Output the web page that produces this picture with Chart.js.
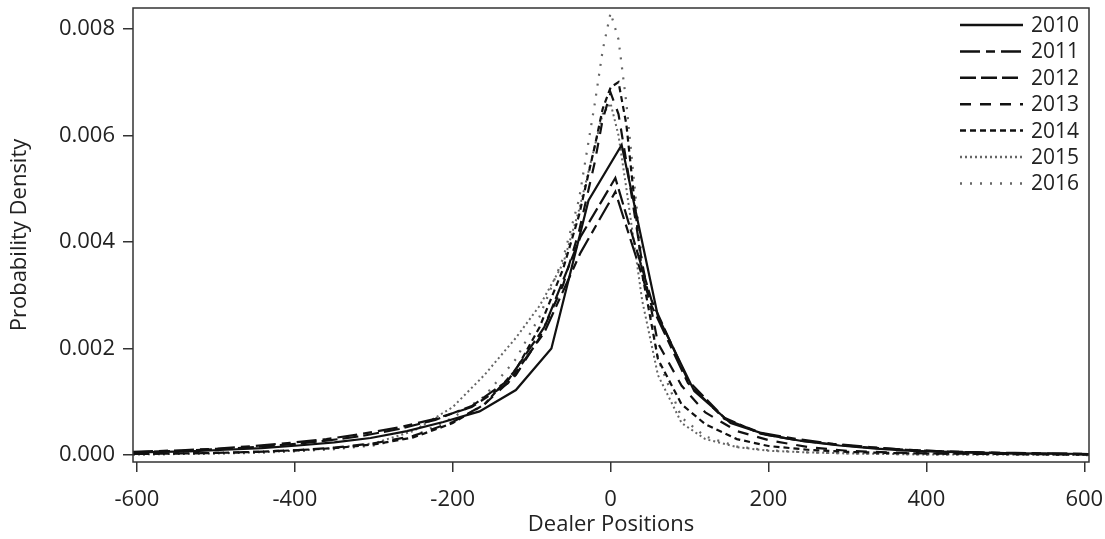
<!DOCTYPE html>
<html>
<head>
<meta charset="utf-8">
<script src="https://cdn.jsdelivr.net/npm/chart.js@4/dist/chart.umd.min.js"></script>
<style>
  html, body { margin: 0; padding: 0; background: #fff; }
  #wrap { width: 1105px; height: 539px; }
</style>
</head>
<body>
<div id="wrap"><canvas id="chart" width="1105" height="539"></canvas></div>
<script>
// x grids the densities were evaluated on
var gridA = [-605, -534, -488, -442, -396, -350, -304, -258, -212, -166, -120, -75, -28, 14, 60, 106, 152, 198, 244, 290, 336, 382, 428, 474, 520, 606];
var gridB = [-605, -544, -498, -452, -406, -360, -314, -268, -222, -176, -130, -84, -38, 6, 52, 98, 144, 190, 236, 282, 328, 374, 420, 466, 512, 606];
var gridC = [-605, -550, -500, -450, -400, -350, -300, -250, -200, -160, -120, -90, -60, -40, -20, -10, 0, 10, 20, 40, 60, 90, 120, 160, 200, 250, 300, 350, 400, 500, 606];

var years = ['2010', '2011', '2012', '2013', '2014', '2015', '2016'];

var d2010 = [0.00005, 0.00007, 0.0001, 0.00013, 0.00018, 0.00024, 0.00032, 0.00045, 0.00062, 0.00082, 0.00122, 0.002, 0.00478, 0.00582, 0.0026, 0.0012, 0.0006, 0.00038, 0.00026, 0.00018, 0.00012, 0.00008, 0.00006, 0.00004, 0.00003, 0.00002];
var d2011 = [0.00006, 0.00009, 0.00012, 0.00017, 0.00023, 0.0003, 0.0004, 0.00052, 0.00068, 0.0009, 0.00135, 0.0023, 0.0038, 0.00494, 0.0028, 0.00135, 0.00068, 0.00042, 0.0003, 0.00021, 0.00015, 0.0001, 0.00007, 0.00005, 0.00004, 0.00002];
var d2012 = [0.00005, 0.00008, 0.00011, 0.00015, 0.0002, 0.00027, 0.00036, 0.00049, 0.00066, 0.00092, 0.0014, 0.0024, 0.0041, 0.0052, 0.0029, 0.0014, 0.0007, 0.0004, 0.00028, 0.0002, 0.00014, 0.0001, 0.00007, 0.00005, 0.00003, 0.00002];
var d2013 = [0.00002, 0.00003, 0.00004, 0.00006, 0.00009, 0.00014, 0.00022, 0.00036, 0.00062, 0.00095, 0.0015, 0.0022, 0.0032, 0.0042, 0.0055, 0.0063, 0.0068, 0.0064, 0.0055, 0.0036, 0.0021, 0.0013, 0.0008, 0.00045, 0.00028, 0.00015, 0.00008, 0.00005, 0.00003, 0.00002, 0.00001];
var d2014 = [0.00002, 0.00003, 0.00004, 0.00006, 0.00009, 0.00013, 0.0002, 0.00033, 0.0006, 0.00095, 0.0016, 0.0024, 0.0035, 0.0045, 0.0058, 0.0065, 0.0069, 0.007, 0.0062, 0.0034, 0.0018, 0.00095, 0.00058, 0.0003, 0.00017, 0.0001, 0.00006, 0.00004, 0.00003, 0.00002, 0.00001];
var d2015 = [0.00001, 0.00002, 0.00003, 0.00005, 0.00008, 0.00013, 0.00022, 0.00045, 0.0009, 0.0015, 0.0022, 0.0028, 0.0036, 0.0046, 0.0058, 0.0064, 0.0066, 0.006, 0.005, 0.0029, 0.0015, 0.0006, 0.0003, 0.00015, 0.00008, 0.00005, 0.00003, 0.00002, 0.00001, 0.00001, 0];
var d2016 = [0.00001, 0.00002, 0.00003, 0.00004, 0.00007, 0.00011, 0.00018, 0.00035, 0.0007, 0.0011, 0.0018, 0.0026, 0.0037, 0.0048, 0.0066, 0.0076, 0.0083, 0.0078, 0.0066, 0.0036, 0.0018, 0.0007, 0.00035, 0.00016, 0.00009, 0.00005, 0.00003, 0.00002, 0.00001, 0.00001, 0];

var xTicks = [-600, -400, -200, 0, 200, 400, 600];
var yTicks = [0, 0.002, 0.004, 0.006, 0.008];

var grids = [gridA, gridB, gridB, gridC, gridC, gridC, gridC];
var values = [d2010, d2011, d2012, d2013, d2014, d2015, d2016];
var dashes = [[], [20, 6, 9, 6], [16, 5], [11, 9], [6, 4], [2, 3], [2, 8]];
var colors = ['#111', '#111', '#111', '#111', '#111', '#666', '#666'];
var widths = [2.2, 2.2, 2.2, 2.2, 2.2, 2, 2.2];

function pts(xs, ys) {
    return xs.map(function (x, i) { return { x: x, y: ys[i] }; });
}

var datasets = years.map(function (y, i) {
    return {
        label: y,
        data: pts(grids[i], values[i]),
        showLine: true,
        borderColor: colors[i],
        borderWidth: widths[i],
        borderDash: dashes[i],
        pointRadius: 0,
        fill: false,
        tension: 0
    };
});

var axisColor = '#333';
var font = { family: 'Open Sans', size: 22 };

// box around the plot + legend in the top right corner
var framePlugin = {
    id: 'frame',
    afterDraw: function (chart) {
        var ctx = chart.ctx, a = chart.chartArea;
        ctx.save();
        ctx.strokeStyle = axisColor;
        ctx.lineWidth = 1.5;
        ctx.strokeRect(a.left, a.top, a.right - a.left, a.bottom - a.top);

        ctx.font = '21px "Open Sans"';
        ctx.textBaseline = 'middle';
        ctx.textAlign = 'left';
        for (var i = 0; i < years.length; i++) {
            var yy = 25 + i * 26.4;
            ctx.beginPath();
            ctx.setLineDash(dashes[i]);
            ctx.strokeStyle = colors[i];
            ctx.lineWidth = widths[i] + 0.3;
            ctx.moveTo(960, yy);
            ctx.lineTo(1023, yy);
            ctx.stroke();
            ctx.setLineDash([]);
            ctx.fillStyle = '#222';
            ctx.fillText(years[i], 1031, yy + 1);
        }
        ctx.restore();
    }
};

var ctx = document.getElementById('chart').getContext('2d');
var chart = new Chart(ctx, {
    type: 'scatter',
    data: { datasets: datasets },
    plugins: [framePlugin],
    options: {
        responsive: false,
        animation: false,
        layout: { padding: { top: 8, right: 16, left: 0, bottom: 0 } },
        plugins: { legend: { display: false }, tooltip: { enabled: false } },
        scales: {
            x: {
                type: 'linear',
                min: -605,
                max: 606,
                afterFit: function (s) { s.height = 77; s.paddingLeft = 0; s.paddingRight = 0; },
                afterBuildTicks: function (s) { s.ticks = xTicks.map(function (v) { return { value: v }; }); },
                ticks: { color: '#222', font: font, padding: 15, maxRotation: 0, callback: function (v) { return v; } },
                grid: { drawOnChartArea: false, drawTicks: true, tickLength: 10, color: axisColor, lineWidth: 1.5 },
                border: { display: false },
                title: { display: true, text: 'Dealer Positions', color: '#222', font: font, padding: { top: 0, bottom: 1 } }
            },
            y: {
                type: 'linear',
                min: -0.00013,
                max: 0.00839,
                afterFit: function (s) { s.width = 133; s.paddingTop = 0; s.paddingBottom = 0; },
                afterBuildTicks: function (s) { s.ticks = yTicks.map(function (v) { return { value: v }; }); },
                ticks: { color: '#222', font: font, padding: 8, callback: function (v) { return v.toFixed(3); } },
                grid: { drawOnChartArea: false, drawTicks: true, tickLength: 10, color: axisColor, lineWidth: 1.5 },
                border: { display: false },
                title: { display: true, text: 'Probability Density', color: '#222', font: font, padding: { top: 7, bottom: 0 } }
            }
        }
    }
});
</script>
</body>
</html>
